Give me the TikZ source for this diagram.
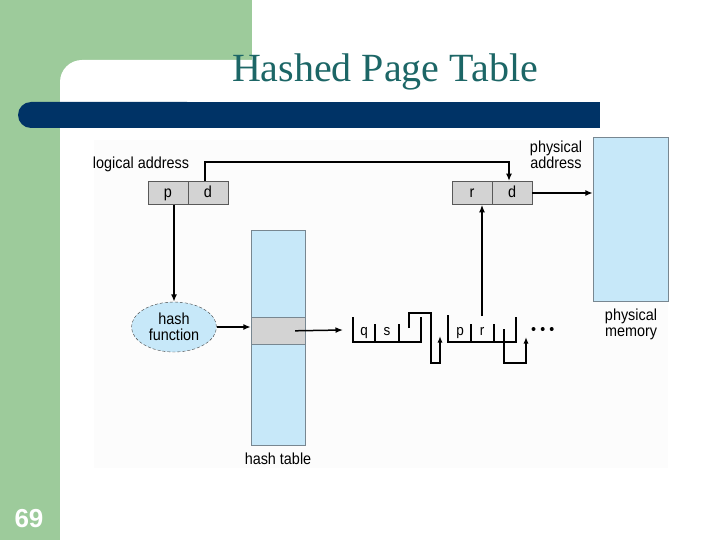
\documentclass[tikz,border=0pt]{standalone}
\usepackage{fontspec}
\setmainfont{Liberation Serif}
\setsansfont{Liberation Sans}
\newfontfamily\condsans[FakeStretch=0.9]{Liberation Sans}
\usetikzlibrary{arrows.meta,shapes.geometric}
\definecolor{bggreen}{RGB}{157,203,155}
\definecolor{barblue}{RGB}{0,51,102}
\definecolor{titleteal}{RGB}{28,102,102}
\definecolor{lblue}{RGB}{199,232,249}
\definecolor{cellgray}{RGB}{211,211,211}
\definecolor{edgegray}{RGB}{120,135,145}
\definecolor{diagbg}{RGB}{252,252,252}
\begin{document}
\begin{tikzpicture}[x=1pt,y=-1pt,
  lab/.style={font=\condsans\fontsize{16}{16}\selectfont, inner sep=0pt, align=center},
  cell/.style={draw=black!65, fill=cellgray, line width=0.8pt, minimum width=40pt, minimum height=23pt, inner sep=0pt, text height=10pt, text depth=0pt, font=\condsans\fontsize{16}{16}\selectfont},
  ltxt/.style={inner sep=0pt, text height=10pt, text depth=0pt, font=\condsans\fontsize{15}{15}\selectfont},
  conn/.style={line width=1.5pt, black},
  arr/.style={conn, -{Latex[length=7.5pt,width=6pt]}},
  listline/.style={line width=1.5pt, black},
  listarr/.style={listline, -{Latex[length=6.5pt,width=5pt]}}
]
\useasboundingbox (0,0) rectangle (720,540);
% slide background
\fill[white] (0,0) rectangle (720,540);
\fill[bggreen] (0,0) rectangle (252,100);
\fill[bggreen] (0,0) rectangle (60,540);
\fill[white, rounded corners=22pt] (60,60) rectangle (760,580);
\fill[barblue, rounded corners=13pt] (18,102) rectangle (200,128);
\fill[barblue] (100,102) rectangle (600,128);
\node[anchor=base, text=titleteal, inner sep=0pt, font=\fontsize{40}{40}\selectfont] (title) at (385,82) {Hashed Page Table};
\node[anchor=base, text=white, inner sep=0pt, font=\sffamily\bfseries\fontsize{26}{26}\selectfont] (num) at (29,527) {69};
% diagram background
\fill[diagbg] (94,140) rectangle (668,468);

% memory and hash table
\node[draw=edgegray, fill=lblue, minimum width=75pt, minimum height=164pt, inner sep=0pt] (mem) at (630.5,219) {};
\node[lab] (memlab) at (631,324) {physical\\memory};
\node[draw=edgegray, fill=lblue, minimum width=54pt, minimum height=215pt, inner sep=0pt] (ht) at (278,337.5) {};
\node[draw=edgegray, fill=cellgray, minimum width=54pt, minimum height=27pt, inner sep=0pt] (slot) at (278,330.8) {};
\node[lab] (htlab) at (278,459) {hash table};

% addresses
\node[lab] (lalab) at (141,164) {logical address};
\node[cell] (lp) at (168,193) {p};
\node[cell] (ld) at (208,193) {d};
\node[lab, font=\condsans\fontsize{16}{14.5}\selectfont] (palab) at (556,155) {physical\\address};
\node[cell] (pr) at (472,193) {r};
\node[cell] (pd) at (512,193) {d};

% hash function
\node[ellipse, draw=black!75, densely dashed, fill=lblue, minimum width=85pt, minimum height=50pt, inner sep=0pt, lab] (hf) at (174,327) {hash\\function};

% connectors
\draw[arr] ([xshift=-3pt]ld.north) -- ++(0,-19) -| ([xshift=-3pt]pd.north);
\draw[arr] (lp.south -| hf.north) -- (hf.north);
\draw[arr] (hf.east) -- (hf.east -| ht.west);
\coordinate (l1in) at (343,330);
\draw[arr] ([xshift=-10pt]slot.east) -- (l1in);
\draw[arr] (pd.east) -- (pd.east -| mem.west);

% linked list entry 1: q | s | next
\draw[listline] (353,317) -- (353,342) -- (421,342) -- (421,317);
\draw[listline] (375,324) -- (375,342);
\draw[listline] (399,324) -- (399,342);
\node[ltxt] (q1) at (364,330) {q};
\node[ltxt] (s1) at (387,330) {s};
\draw[listarr] (409,328) -- (409,313) -- (431,313) -- (431,363) -- (440,363) -- (440,336);

% linked list entry 2: p | r | next
\draw[listline] (448,315) -- (448,342) -- (516,342) -- (516,317);
\draw[listline] (471,324) -- (471,342);
\draw[listline] (494,324) -- (494,342);
\node[ltxt] (p2) at (460,330) {p};
\node[ltxt] (r2) at (482,330) {r};
\coordinate (n2r) at (482,316);
\draw[arr, line width=1.2pt] (n2r) -- (n2r |- pr.south);
\draw[listarr] (504,329) -- (504,363) -- (526,363) -- (526,337);
\fill (533.5,329) circle (2pt);
\fill (542.7,329) circle (2pt);
\fill (551.7,329) circle (2pt);
\end{tikzpicture}
\end{document}
